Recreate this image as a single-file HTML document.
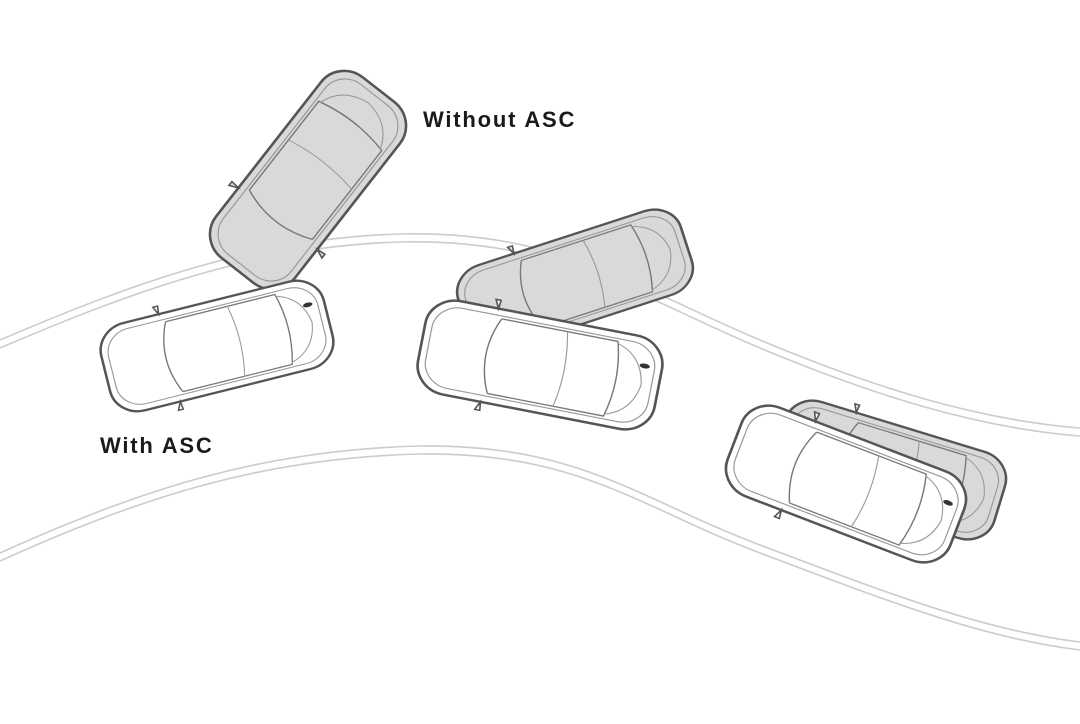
<!DOCTYPE html>
<html><head><meta charset="utf-8"><style>
html,body{margin:0;padding:0;background:#fff;width:1080px;height:724px;overflow:hidden}
svg{display:block}
text{font-family:"Liberation Sans",sans-serif;font-size:22px;font-weight:bold;fill:#1a1a1a;letter-spacing:1.8px}
</style></head><body>
<svg width="1080" height="724" viewBox="0 0 1080 724" xmlns="http://www.w3.org/2000/svg">
<defs>
<g id="carW">
  <rect x="-117" y="-50" width="234" height="100" rx="30" fill="#fff" stroke="#555" stroke-width="2.6"/>
  <rect x="-110" y="-43" width="220" height="86" rx="26" fill="none" stroke="#999" stroke-width="1.2"/>
  <path d="M-45,-40 Q-62,0 -45,40" fill="none" stroke="#777" stroke-width="1.4"/>
  <path d="M-45,-40 L70,-40 Q80,0 70,40 L-45,40" fill="none" stroke="#777" stroke-width="1.4"/>
  <path d="M20,-40 Q28,0 20,40" fill="none" stroke="#999" stroke-width="1.1"/>
  <path d="M70,-38 Q96,-30 100,0 Q96,30 70,38" fill="none" stroke="#999" stroke-width="1.1"/>
  <path d="M-50,-50 l-4,-9 l5,0 z M-50,50 l-4,9 l5,0 z" fill="#fff" stroke="#555" stroke-width="1.6"/>
  <ellipse cx="100" cy="-20" rx="5" ry="2.5" fill="#333"/>
</g>
<g id="carG">
  <rect x="-117" y="-50" width="234" height="100" rx="30" fill="#d9d9d9" stroke="#555" stroke-width="2.6"/>
  <rect x="-110" y="-43" width="220" height="86" rx="26" fill="none" stroke="#999" stroke-width="1.2"/>
  <path d="M-45,-40 Q-62,0 -45,40" fill="none" stroke="#777" stroke-width="1.4"/>
  <path d="M-45,-40 L70,-40 Q80,0 70,40 L-45,40" fill="none" stroke="#777" stroke-width="1.4"/>
  <path d="M20,-40 Q28,0 20,40" fill="none" stroke="#999" stroke-width="1.1"/>
  <path d="M70,-38 Q96,-30 100,0 Q96,30 70,38" fill="none" stroke="#999" stroke-width="1.1"/>
  <path d="M-50,-50 l-4,-9 l5,0 z M-50,50 l-4,9 l5,0 z" fill="#d9d9d9" stroke="#555" stroke-width="1.6"/>
</g>
</defs>
<g fill="none" stroke="#ccc" stroke-width="1.6">
  <path d="M0,340 C140,280 260,238 400,234 C560,230 640,290 760,340 C880,390 980,420 1080,428"/>
  <path d="M0,348 C140,288 260,246 400,242 C560,238 640,298 760,348 C880,398 980,428 1080,436"/>
  <path d="M0,553 C140,490 260,450 420,446 C580,444 640,500 760,545 C880,590 980,630 1080,642"/>
  <path d="M0,561 C140,498 260,458 420,454 C580,452 640,508 760,553 C880,598 980,638 1080,650"/>
</g>
<use href="#carG" transform="translate(308,180) rotate(-52) scale(0.98,1.0)"/>
<use href="#carW" transform="translate(217,346) rotate(-14) scale(0.98,0.9)"/>
<use href="#carG" transform="translate(575,280) rotate(-18) scale(1,0.88)"/>
<use href="#carW" transform="translate(540,365) rotate(11) scale(1.03,0.95)"/>
<use href="#carG" transform="translate(890,470) rotate(17) scale(0.98,0.9)"/>
<use href="#carW" transform="translate(846,484) rotate(21) scale(1.02,0.95)"/>
<text x="423" y="127">Without ASC</text>
<text x="100" y="453">With ASC</text>
</svg>
</body></html>
